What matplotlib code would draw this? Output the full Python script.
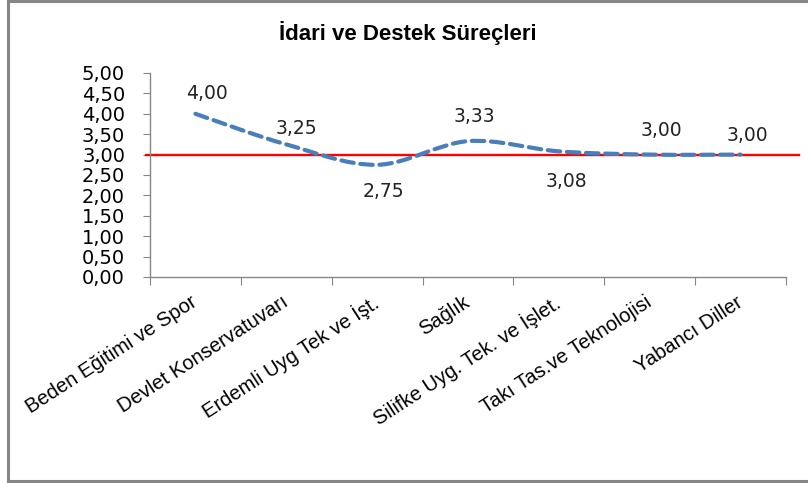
import matplotlib
matplotlib.use("Agg")
import matplotlib.pyplot as plt
from matplotlib.path import Path
from matplotlib.patches import PathPatch
from matplotlib.lines import Line2D
import numpy as np

# ---- data ----
categories = ["Beden Eğitimi ve Spor", "Devlet Konservatuvarı",
              "Erdemli Uyg Tek ve İşt.", "Sağlık",
              "Silifke Uyg. Tek. ve İşlet.", "Takı Tas.ve Teknolojisi",
              "Yabancı Diller"]
scores = [4.00, 3.25, 2.75, 3.33, 3.08, 3.00, 3.00]
target = 3.0
yticks = np.arange(0, 5.01, 0.5)

# label offsets from the point, in pixels (x right, y up)
label_offsets = [(12, 20), (10, 16), (6, -27), (6, 25), (8, -30), (12, 24), (7, 19)]

text_font = "Liberation Sans"
num_font = "DejaVu Sans"
blue = "#4A7EBB"
grey = "#868686"


def fmt(v):
    return ("%.2f" % v).replace(".", ",")


def smooth_path(xs, ys):
    # catmull-rom style bezier, like the smoothed line in excel
    pts = np.column_stack([xs, ys])
    verts = [pts[0]]
    codes = [Path.MOVETO]
    n = len(pts)
    for i in range(n - 1):
        p0 = pts[max(i - 1, 0)]
        p1 = pts[i]
        p2 = pts[i + 1]
        p3 = pts[min(i + 2, n - 1)]
        c1 = p1 + (p2 - p0) / 6.0
        c2 = p2 - (p3 - p1) / 6.0
        verts += [c1, c2, p2]
        codes += [Path.CURVE4] * 3
    return Path(verts, codes)


fig = plt.figure(figsize=(8.08, 4.83), dpi=100)
ax = fig.add_axes([150 / 808, (483 - 277) / 483, 636 / 808, 204 / 483])

x = np.arange(len(categories))
patch = PathPatch(smooth_path(x, scores), facecolor="none", edgecolor=blue,
                  lw=3.0, linestyle=(0, (3.0, 1.6)), capstyle="round", zorder=3)
ax.add_patch(patch)

# reference line
ax.axhline(target, xmin=-0.006, xmax=1.02, color="#FF0000", lw=1.7,
           clip_on=False, zorder=2)

for xi, v, off in zip(x, scores, label_offsets):
    ax.annotate(fmt(v), (xi, v), xytext=(off[0] * 0.72, off[1] * 0.72),
                textcoords="offset points", ha="center", va="center",
                fontsize=13.5, family=num_font, color="#222222")

ax.set_xlim(-0.5, len(categories) - 0.5)
ax.set_ylim(0, 5)
ax.set_yticks(yticks)
ax.set_yticklabels([fmt(t) for t in yticks], family=num_font, fontsize=14)
ax.set_xticks(np.arange(-0.5, len(categories), 1.0))
ax.set_xticklabels([])
ax.set_xticks(x, minor=True)
ax.set_xticklabels(categories, minor=True, rotation=33, ha="right",
                   rotation_mode="anchor", va="center", family=text_font,
                   fontsize=14.5)
ax.tick_params(axis="x", which="major", length=6, color=grey, direction="out")
ax.tick_params(axis="x", which="minor", length=0, pad=17)
ax.tick_params(axis="y", length=5, color=grey, pad=13)
for s in ["top", "right"]:
    ax.spines[s].set_visible(False)
for s in ["left", "bottom"]:
    ax.spines[s].set_color(grey)
    ax.spines[s].set_linewidth(1.0)

fig.text(0.5 * (273 + 542) / 808, 1 - 33 / 483, "İdari ve Destek Süreçleri",
         ha="center", va="center", family=text_font, fontweight="bold",
         fontsize=16)

# chart border
fig.add_artist(Line2D([8 / 808, 8 / 808], [2 / 483, 482 / 483],
                      transform=fig.transFigure, color=grey, lw=2.2))
fig.add_artist(Line2D([8 / 808, 1.0], [482 / 483, 482 / 483],
                      transform=fig.transFigure, color=grey, lw=2.2))
fig.add_artist(Line2D([8 / 808, 1.0], [2 / 483, 2 / 483],
                      transform=fig.transFigure, color=grey, lw=2.2))

fig.savefig("out.png", dpi=100)
